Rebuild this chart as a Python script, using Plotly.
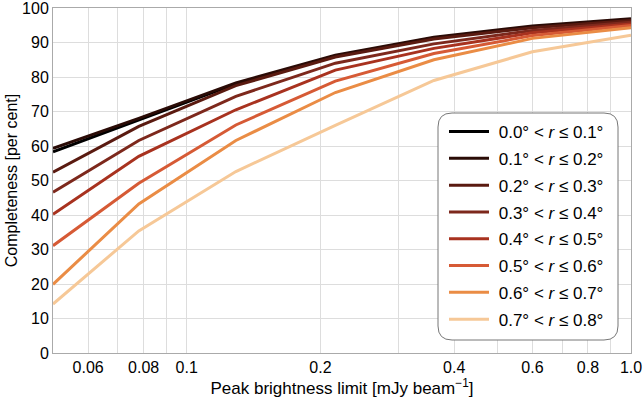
import plotly.graph_objects as go

# Data
peak_limit = [0.05, 0.078, 0.129, 0.216, 0.36, 0.6, 1.0]
series_labels = [
    "0.0° &lt; <i>r</i> ≤ 0.1°",
    "0.1° &lt; <i>r</i> ≤ 0.2°",
    "0.2° &lt; <i>r</i> ≤ 0.3°",
    "0.3° &lt; <i>r</i> ≤ 0.4°",
    "0.4° &lt; <i>r</i> ≤ 0.5°",
    "0.5° &lt; <i>r</i> ≤ 0.6°",
    "0.6° &lt; <i>r</i> ≤ 0.7°",
    "0.7° &lt; <i>r</i> ≤ 0.8°",
]
r_00_01 = [58.3, 67.5, 78.0, 86.0, 91.3, 94.5, 96.6]
r_01_02 = [59.3, 68.0, 78.3, 86.3, 91.5, 94.8, 96.9]
r_02_03 = [52.4, 65.7, 77.5, 85.8, 91.0, 94.3, 96.4]
r_03_04 = [46.6, 61.6, 74.4, 84.0, 89.6, 93.5, 95.9]
r_04_05 = [40.2, 57.0, 70.5, 82.0, 88.3, 92.8, 95.4]
r_05_06 = [31.1, 49.2, 66.1, 78.8, 86.8, 92.0, 94.9]
r_06_07 = [19.9, 43.2, 61.6, 75.5, 85.0, 91.2, 94.3]
r_07_08 = [14.2, 35.4, 52.6, 66.0, 79.0, 87.3, 92.1]
series_values = [r_00_01, r_01_02, r_02_03, r_03_04, r_04_05, r_05_06, r_06_07, r_07_08]
colors = ["#000000", "#2a0b06", "#5a1a10", "#7d281c", "#a8321f", "#d65a35", "#ea8c45", "#f6c897"]

x_tickvals = [0.05, 0.06, 0.07, 0.08, 0.09, 0.1, 0.2, 0.3, 0.4, 0.5, 0.6, 0.7, 0.8, 0.9, 1.0]
x_ticktext = [" ", "0.06", " ", "0.08", " ", "0.1", "0.2", " ", "0.4", " ", "0.6", " ", "0.8", " ", "1.0"]
y_tickvals = list(range(0, 101, 10))

fig = go.Figure()
for i, (lab, vals, col) in enumerate(zip(series_labels, series_values, colors)):
    fig.add_trace(go.Scatter(
        x=peak_limit, y=vals, mode="lines", name="&nbsp;" + lab,
        line=dict(color=col, width=3), legendgroup=f"g{i}",
    ))

W, H = 643, 398
L, R, T, B = 53, 12, 8, 45
pw, ph = W - L - R, H - T - B

def px(xp):
    return (xp - L) / pw

def py(yp):
    return (H - B - yp) / ph

# rounded legend box
x0, x1, y0, y1, rr = 438, 618, 113, 340, 14
path = (
    f"M {px(x0+rr)} {py(y0)} L {px(x1-rr)} {py(y0)} "
    f"Q {px(x1)} {py(y0)} {px(x1)} {py(y0+rr)} "
    f"L {px(x1)} {py(y1-rr)} Q {px(x1)} {py(y1)} {px(x1-rr)} {py(y1)} "
    f"L {px(x0+rr)} {py(y1)} Q {px(x0)} {py(y1)} {px(x0)} {py(y1-rr)} "
    f"L {px(x0)} {py(y0+rr)} Q {px(x0)} {py(y0)} {px(x0+rr)} {py(y0)} Z"
)
fig.add_shape(type="path", path=path, xref="paper", yref="paper",
              line=dict(color="#777777", width=1), fillcolor="white", layer="above")

fig.update_layout(
    width=W, height=H,
    margin=dict(l=L, r=R, t=T, b=B),
    paper_bgcolor="white", plot_bgcolor="white",
    font=dict(family="Liberation Sans, Arial, sans-serif", size=16, color="black"),
    showlegend=True,
    legend=dict(
        x=px(444), y=py(114), xanchor="left", yanchor="top",
        bgcolor="rgba(0,0,0,0)", borderwidth=0,
        font=dict(size=17), tracegroupgap=1.7,
        itemwidth=40,
    ),
    xaxis=dict(
        type="log", range=[-1.30103, 0], automargin=False,
        tickvals=x_tickvals, ticktext=x_ticktext, ticklabeloverflow="allow",
        showgrid=True, gridcolor="#dddddd", gridwidth=1,
        showline=True, linecolor="#aaaaaa", linewidth=1, mirror=True,
        ticks="", zeroline=False,
        tickfont=dict(size=16),
        title=dict(text="Peak brightness limit [mJy beam<sup>−1</sup>]", standoff=2, font=dict(size=17)),
    ),
    yaxis=dict(
        range=[0, 100], tickvals=y_tickvals, automargin=False,
        ticklabeloverflow="allow",
        showgrid=True, gridcolor="#dddddd", gridwidth=1,
        showline=True, linecolor="#aaaaaa", linewidth=1, mirror=True,
        ticks="", zeroline=False,
        tickfont=dict(size=16),
        title=dict(text="Completeness [per cent]", standoff=0, font=dict(size=16)),
    ),
)

fig.write_html("out.html")
